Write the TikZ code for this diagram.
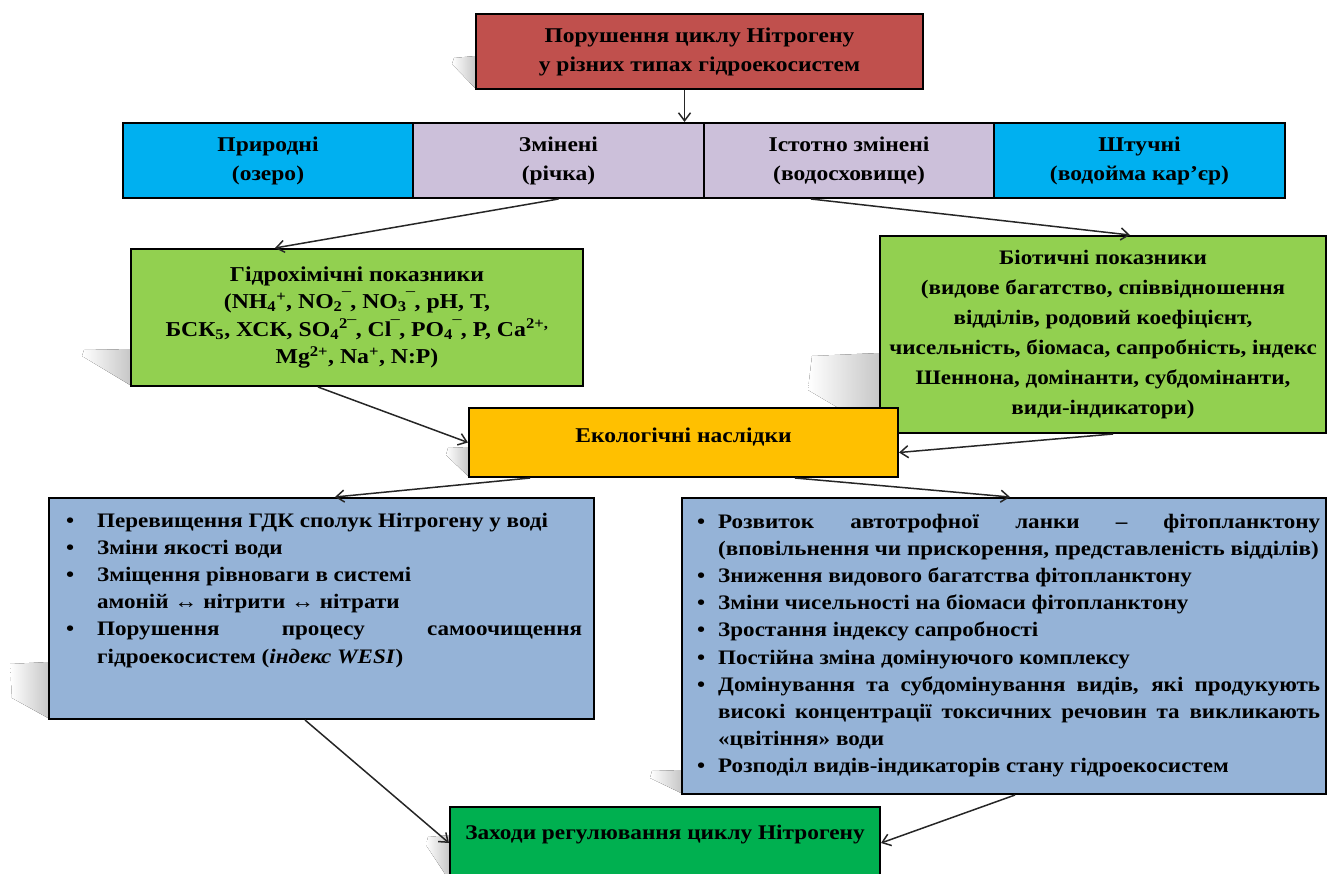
\documentclass[tikz,border=0pt]{standalone}
\usepackage{fontspec}
\setmainfont[FakeStretch=1.12]{Liberation Serif}
\usetikzlibrary{arrows.meta,calc}
\definecolor{cred}{HTML}{C0504D}
\definecolor{ccyan}{HTML}{00B0F0}
\definecolor{clil}{HTML}{CCC0DA}
\definecolor{clgreen}{HTML}{92D050}
\definecolor{corange}{HTML}{FFC000}
\definecolor{cblue}{HTML}{95B3D7}
\definecolor{cdgreen}{HTML}{00B050}
\newcommand{\myitem}[2]{\hangindent=#1\hangafter=1\noindent\makebox[#1][l]{•}#2\par}
\begin{document}
\begin{tikzpicture}[x=1pt,y=-1pt,
  box/.style={draw=black, line width=2pt, inner sep=0pt, anchor=north west, align=center,
    font=\bfseries\fontsize{21}{29}\selectfont},
  arr/.style={draw=black!85, line width=1.5pt, -{Straight Barb[length=8pt,width=12pt,line width=1.5pt]}},
  shd/.style={left color=white, right color=black!22, draw=none},
  listtxt/.style={inner sep=0pt, anchor=north west, align=justify,
    font=\bfseries\fontsize{20.6}{27.1}\selectfont}]
\useasboundingbox (0,0) rectangle (1327,873);
\begin{scope}
\clip (0,0) rectangle (1327,873);
% shadows
\fill[shd] (475,88) -- (452,64) -- (454,58) -- (475,56) -- cycle;
\fill[shd] (130,385) -- (82,356) -- (84,350) -- (130,349) -- cycle;
\fill[shd] (879,432) -- (808,390) -- (812,356) -- (879,353) -- cycle;
\fill[shd] (468,476) -- (446,455) -- (448,448) -- (468,447) -- cycle;
\fill[shd] (48,718) -- (12,698) -- (10,664) -- (48,662) -- cycle;
\fill[shd] (681,793) -- (650,778) -- (652,771) -- (681,770) -- cycle;
\fill[shd] (449,880) -- (426,845) -- (428,837) -- (449,835) -- cycle;
% boxes
\node[box, fill=cred, minimum width=447pt, minimum height=75pt] (top) at (475,13)
  {Порушення циклу Нітрогену\\у різних типах гідроекосистем};
\node[box, fill=ccyan, minimum width=290pt, minimum height=75pt] (pr) at (122,122)
  {Природні\\(озеро)};
\node[box, fill=clil, minimum width=291pt, minimum height=75pt] (zm) at (412,122)
  {Змінені\\(річка)};
\node[box, fill=clil, minimum width=290pt, minimum height=75pt] (isz) at (703,122)
  {Істотно змінені\\(водосховище)};
\node[box, fill=ccyan, minimum width=291pt, minimum height=75pt] (sht) at (993,122)
  {Штучні\\(водойма кар’єр)};
\node[box, fill=clgreen, minimum width=452pt, minimum height=137pt,
  font=\bfseries\fontsize{21.2}{27.5}\selectfont] (hyd) at (130,248)
  {Гідрохімічні показники\\(NH\textsubscript{4}\textsuperscript{+}, NO\textsubscript{2}‾, NO\textsubscript{3}‾, pH, T,\\
   БСК\textsubscript{5}, ХСК, SO\textsubscript{4}\textsuperscript{2}‾, Cl‾, PO\textsubscript{4}‾, P, Ca\textsuperscript{2+,}\\
   Mg\textsuperscript{2+}, Na\textsuperscript{+}, N:P)};
\node[box, fill=clgreen, minimum width=446pt, minimum height=197pt,
  font=\bfseries\fontsize{20.6}{30}\selectfont] (bio) at (879,235)
  {Біотичні показники\\(видове багатство, співвідношення\\відділів, родовий коефіцієнт,\\
   чисельність, біомаса, сапробність, індекс\\Шеннона, домінанти, субдомінанти,\\види-індикатори)};
\node[box, fill=corange, minimum width=429pt, minimum height=69pt] (eco) at (468,407) {};
\node[anchor=center, inner sep=0pt, font=\bfseries\fontsize{21}{29}\selectfont] (ecot)
  at ($(eco.center)+(0,-5)$) {Екологічні наслідки};
\node[box, fill=cblue, minimum width=545pt, minimum height=221pt] (lb) at (48,497) {};
\node[box, fill=cblue, minimum width=644pt, minimum height=296pt] (rb) at (681,497) {};
\node[box, fill=cdgreen, minimum width=430pt, minimum height=90pt] (fin) at (449,806) {};
\node[anchor=base, inner sep=0pt, font=\bfseries\fontsize{20.8}{29}\selectfont] (fint)
  at ($(fin.north)+(0,33)$) {Заходи регулювання циклу Нітрогену};
% lists
\node[listtxt, text width=516pt] (lbt) at (66,513) {\hyphenpenalty=10000\exhyphenpenalty=10000
  \myitem{31pt}{Перевищення ГДК сполук Нітрогену у воді}
  \myitem{31pt}{Зміни якості води}
  \myitem{31pt}{Зміщення рівноваги в системі\newline амоній ↔ нітрити ↔ нітрати}
  \myitem{31pt}{Порушення процесу самоочищення\linebreak гідроекосистем (\textit{індекс WESI})}};
\node[listtxt, text width=623pt] (rbt) at (697,514) {\hyphenpenalty=10000\exhyphenpenalty=10000
  \myitem{21pt}{Розвиток автотрофної ланки – фітопланктону\linebreak (вповільнення чи прискорення, представленість відділів)}
  \myitem{21pt}{Зниження видового багатства фітопланктону}
  \myitem{21pt}{Зміни чисельності на біомаси фітопланктону}
  \myitem{21pt}{Зростання індексу сапробності}
  \myitem{21pt}{Постійна зміна домінуючого комплексу}
  \myitem{21pt}{Домінування та субдомінування видів, які продукують\linebreak високі концентрації токсичних речовин та викликають\linebreak «цвітіння» води}
  \myitem{21pt}{Розподіл видів-індикаторів стану гідроекосистем}};
% connectors
\coordinate (ta) at ($(top.south)+(-15,0)$);
\draw[arr] (ta) -- (ta |- zm.north);
\draw[arr] (zm.south) -- ($(hyd.north west)+(145,0)$);
\draw[arr] ($(isz.south)+(-38,0)$) -- ($(bio.north west)+(251,0)$);
\draw[arr] ($(hyd.south west)+(188,0)$) -- (eco.west);
\draw[arr] ($(bio.south west)+(234,0)$) -- ($(eco.east)+(0,10)$);
\draw[arr] ($(eco.south west)+(62,0)$) -- ($(lb.north west)+(287,0)$);
\draw[arr] ($(eco.south west)+(327,0)$) -- ($(rb.north west)+(329,0)$);
\draw[arr] ($(lb.south west)+(257,0)$) -- ($(fin.north west)+(0,37)$);
\draw[arr] ($(rb.south west)+(334,0)$) -- ($(fin.north east)+(0,37)$);
\end{scope}
\end{tikzpicture}
\end{document}
